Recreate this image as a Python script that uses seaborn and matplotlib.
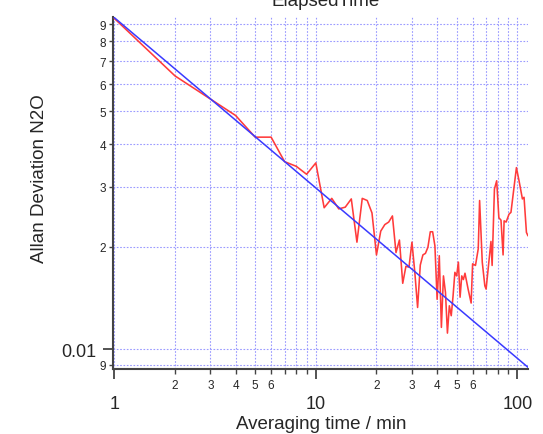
import numpy as np
import pandas as pd
import matplotlib
matplotlib.use("Agg")
import matplotlib.pyplot as plt
from matplotlib.ticker import FixedLocator, FixedFormatter
import seaborn as sns

# Allan deviation of N2O vs averaging time
tau_min = [1, 2, 4, 5, 6, 7, 8, 9, 10, 11, 12, 13, 14, 15, 16, 17, 18, 19, 20,
           21, 22, 23, 24, 25, 26, 27, 28, 29, 30, 31, 32, 33, 34, 35, 36, 37,
           38, 39, 40, 41, 42, 43, 44, 45, 46, 47, 48, 49, 50, 51, 52, 53, 54,
           55, 57, 59, 60, 62, 64, 65, 67, 69, 70, 74, 75, 77, 79, 81, 83, 85,
           86, 88, 91, 93, 97, 99, 102, 106, 108, 111, 113]
adev_n2o = [0.0935, 0.0634, 0.0485, 0.0419, 0.0419, 0.0355, 0.0344, 0.0326,
            0.0352, 0.0260, 0.0277, 0.0258, 0.0261, 0.0276, 0.0206, 0.0277,
            0.0273, 0.0251, 0.0189, 0.0222, 0.0232, 0.0236, 0.0246, 0.0192,
            0.0209, 0.0156, 0.0175, 0.0174, 0.0206, 0.0168, 0.01325, 0.01765,
            0.0189, 0.0191, 0.0199, 0.0221, 0.0221, 0.0201, 0.0140, 0.0188,
            0.01158, 0.0164, 0.01467, 0.01114, 0.0134, 0.01253, 0.01434,
            0.0168, 0.0164, 0.0180, 0.0142, 0.0164, 0.0160, 0.0167, 0.0150,
            0.01365, 0.0178, 0.0176, 0.0197, 0.0273, 0.0180, 0.01534, 0.0150,
            0.0207, 0.0176, 0.0295, 0.0312, 0.0243, 0.0239, 0.0189, 0.0238,
            0.0236, 0.0249, 0.0252, 0.0309, 0.0341, 0.0312, 0.0276, 0.0279,
            0.0220, 0.0215]

# white-noise reference line (slope -1/2)
tau_fit = [1, 113]
adev_fit = [0.094, 0.00884]

x_major = [1, 10, 100]
x_minor = [2, 3, 4, 5, 6, 7, 8, 9, 20, 30, 40, 50, 60, 70, 80, 90]
x_minor_labels = ["2", "3", "4", "5", "6", "", "", "",
                  "2", "3", "4", "5", "6", "", "", ""]
y_major = [0.01]
y_minor = [0.009, 0.02, 0.03, 0.04, 0.05, 0.06, 0.07, 0.08, 0.09]
y_minor_labels = ["9", "2", "3", "4", "5", "6", "7", "8", "9"]

df = pd.DataFrame({"tau": tau_min, "adev": adev_n2o})
df_fit = pd.DataFrame({"tau": tau_fit, "adev": adev_fit})

sns.set_style("white")
plt.rcParams["font.family"] = ["Liberation Sans", "DejaVu Sans"]

fig = plt.figure(figsize=(5.43, 4.35), dpi=100)
ax = fig.add_axes([113 / 543, 65 / 435, 415 / 543, 352 / 435])
ax.set_facecolor("white")

ax.set_xscale("log")
ax.set_yscale("log")

sns.lineplot(data=df, x="tau", y="adev", color="#ff3b3b", lw=1.15,
             estimator=None, sort=False, ax=ax, zorder=3)
sns.lineplot(data=df_fit, x="tau", y="adev", color="#3a3aff", lw=1.1,
             estimator=None, sort=False, ax=ax, zorder=4)

ax.set_xlim(0.985, 113)
ax.set_ylim(0.00874, 0.0944)

ax.xaxis.set_major_locator(FixedLocator(x_major))
ax.xaxis.set_major_formatter(FixedFormatter(["1", "10", "100"]))
ax.xaxis.set_minor_locator(FixedLocator(x_minor))
ax.xaxis.set_minor_formatter(FixedFormatter(x_minor_labels))
ax.yaxis.set_major_locator(FixedLocator(y_major))
ax.yaxis.set_major_formatter(FixedFormatter(["0.01"]))
ax.yaxis.set_minor_locator(FixedLocator(y_minor))
ax.yaxis.set_minor_formatter(FixedFormatter(y_minor_labels))

# dotted light-blue grid on every tick
ax.grid(which="both", color="#9a9aff", linestyle=(0, (1.5, 1.5)), lw=0.8)

for s in ["top", "right"]:
    ax.spines[s].set_visible(False)
for s in ["left", "bottom"]:
    ax.spines[s].set_color("#444444")
    ax.spines[s].set_linewidth(1.5)

ax.tick_params(axis="x", which="major", direction="out", length=7, width=1.3,
               pad=12, labelsize=13, color="#444444", bottom=True)
ax.tick_params(axis="x", which="minor", direction="out", length=3.6, width=1,
               pad=3.5, labelsize=8.5, color="#444444", bottom=True)
ax.tick_params(axis="y", which="major", direction="out", length=7, width=1.3,
               pad=5, labelsize=13, color="#444444", left=True)
ax.tick_params(axis="y", which="minor", direction="out", length=3, width=1,
               pad=2, labelsize=8.5, color="#444444", left=True)

ax.set_xlabel("")
ax.set_ylabel("")
fig.text(321 / 543, 1 - 429 / 435, "Averaging time / min", ha="center",
         va="baseline", fontsize=13.5)
fig.text(40 / 543, 1 - 179 / 435, "Allan Deviation N2O", ha="center",
         va="center", rotation=90, fontsize=13.5)
fig.text(326 / 543, 1 - 6 / 435, "ElapsedTime", ha="center",
         va="baseline", fontsize=13.5)

fig.savefig("out.png", dpi=100)
